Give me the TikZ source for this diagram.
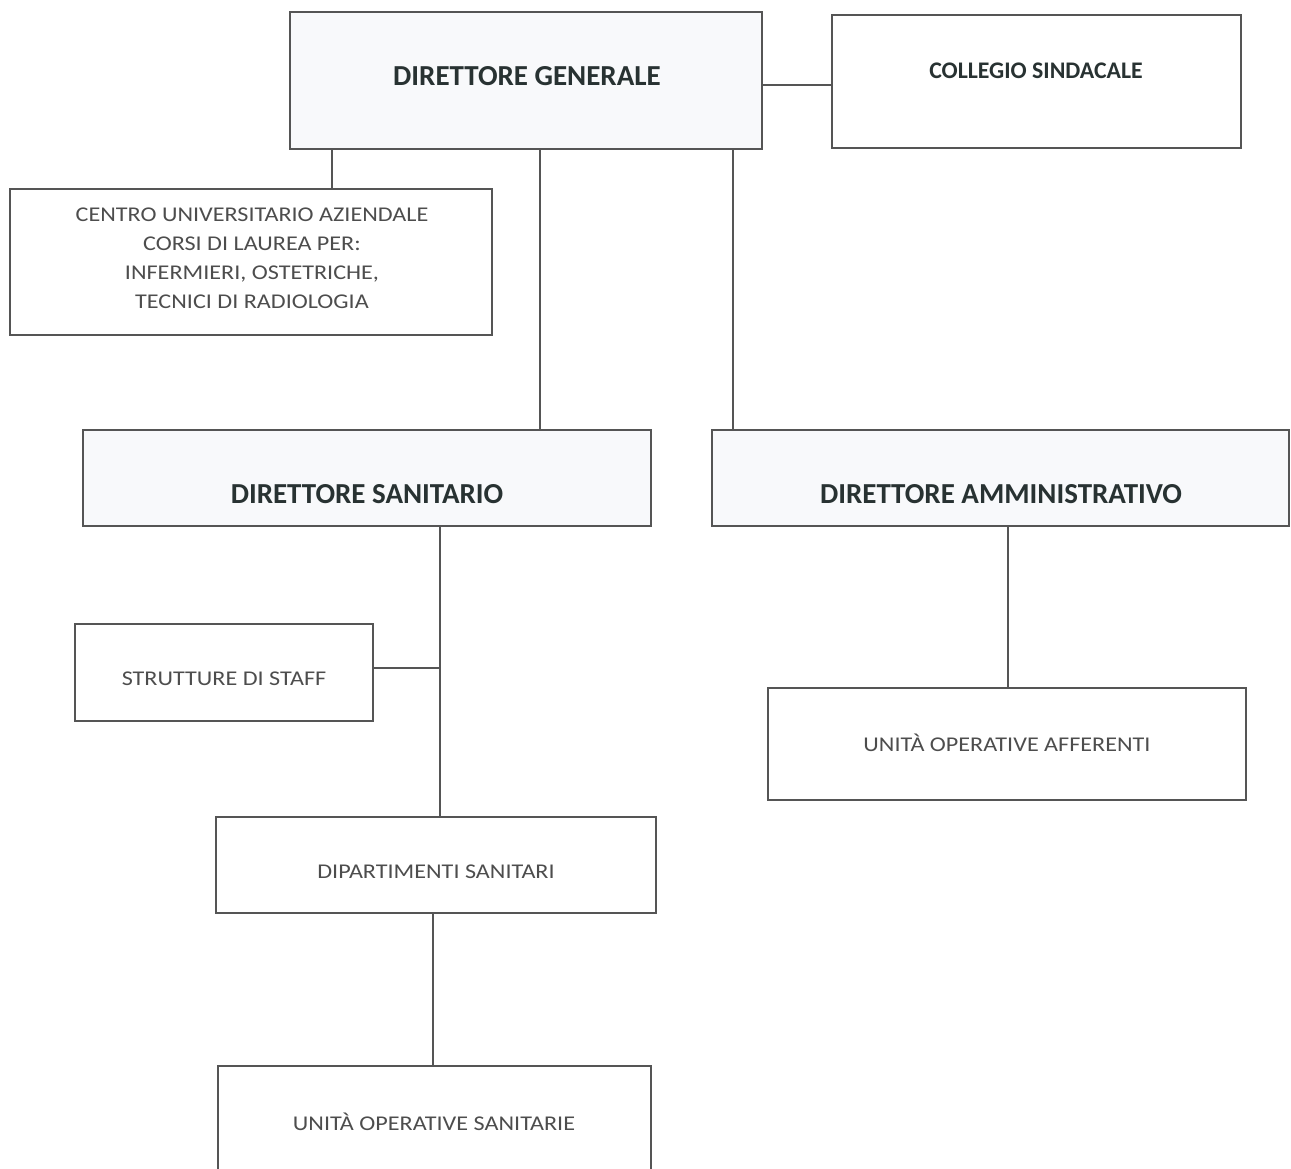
\documentclass[tikz,border=0pt]{standalone}
\usepackage{fontspec}
\setmainfont{Carlito}
\newfontfamily\regfont[FakeStretch=1.15]{Carlito}
\definecolor{boldtxt}{HTML}{283232}
\definecolor{regtxt}{HTML}{4D4D4D}
\definecolor{linec}{HTML}{555555}
\definecolor{dirfill}{HTML}{F8F9FB}
\begin{document}
\begin{tikzpicture}[x=1pt,y=-1pt,
  box/.style={draw=linec,line width=1.3pt,fill=white},
  dirbox/.style={draw=linec,line width=1.3pt,fill=dirfill},
  bigtxt/.style={font=\fontsize{29}{32}\selectfont\bfseries,text=boldtxt},
  midtxt/.style={font=\fontsize{23.8}{26}\selectfont\bfseries,text=boldtxt},
  regtxt/.style={font=\regfont\fontsize{21}{29}\selectfont,text=regtxt,align=center},
  conn/.style={draw=linec,line width=1.3pt}]
\useasboundingbox (0,0) rectangle (1291,1169);
% boxes
\draw[dirbox] (290,12) rectangle (762,149);
\draw[box] (832,15) rectangle (1241,148);
\draw[box] (10,189) rectangle (492,335);
\draw[dirbox] (83,430) rectangle (651,526);
\draw[dirbox] (712,430) rectangle (1289,526);
\draw[box] (75,624) rectangle (373,721);
\draw[box] (216,817) rectangle (656,913);
\draw[box] (218,1066) rectangle (651,1180);
\draw[box] (768,688) rectangle (1246,800);
% texts
\node[bigtxt] (dg) at (527,76) {DIRETTORE GENERALE};
\node[midtxt] (cs) at (1036,71) {COLLEGIO SINDACALE};
\node[regtxt] (cua) at (252,258) {CENTRO UNIVERSITARIO AZIENDALE\\CORSI DI LAUREA PER:\\INFERMIERI, OSTETRICHE,\\TECNICI DI RADIOLOGIA};
\node[bigtxt] (ds) at (367,494) {DIRETTORE SANITARIO};
\node[bigtxt] (da) at (1001,494) {DIRETTORE AMMINISTRATIVO};
\node[regtxt] (st) at (224,679) {STRUTTURE DI STAFF};
\node[regtxt] (dip) at (436,872) {DIPARTIMENTI SANITARI};
\node[regtxt] (uos) at (434,1122) {UNITÀ OPERATIVE SANITARIE};
\node[regtxt] (uoa) at (1007,743) {UNITÀ OPERATIVE AFFERENTI};
% connectors
\coordinate (a1) at (762,85); \coordinate (a2) at (832,85);
\draw[conn] (a1) -- (a2);
\coordinate (b1) at (332,149); \coordinate (b2) at (332,189);
\draw[conn] (b1) -- (b2);
\coordinate (c1) at (540,149); \coordinate (c2) at (540,430);
\draw[conn] (c1) -- (c2);
\coordinate (d1) at (733,149); \coordinate (d2) at (733,430);
\draw[conn] (d1) -- (d2);
\coordinate (e1) at (440,526); \coordinate (e2) at (440,817);
\draw[conn] (e1) -- (e2);
\coordinate (f1) at (373,668); \coordinate (f2) at (440,668);
\draw[conn] (f1) -- (f2);
\coordinate (g1) at (433,913); \coordinate (g2) at (433,1066);
\draw[conn] (g1) -- (g2);
\coordinate (h1) at (1008,526); \coordinate (h2) at (1008,688);
\draw[conn] (h1) -- (h2);
\end{tikzpicture}
\end{document}
